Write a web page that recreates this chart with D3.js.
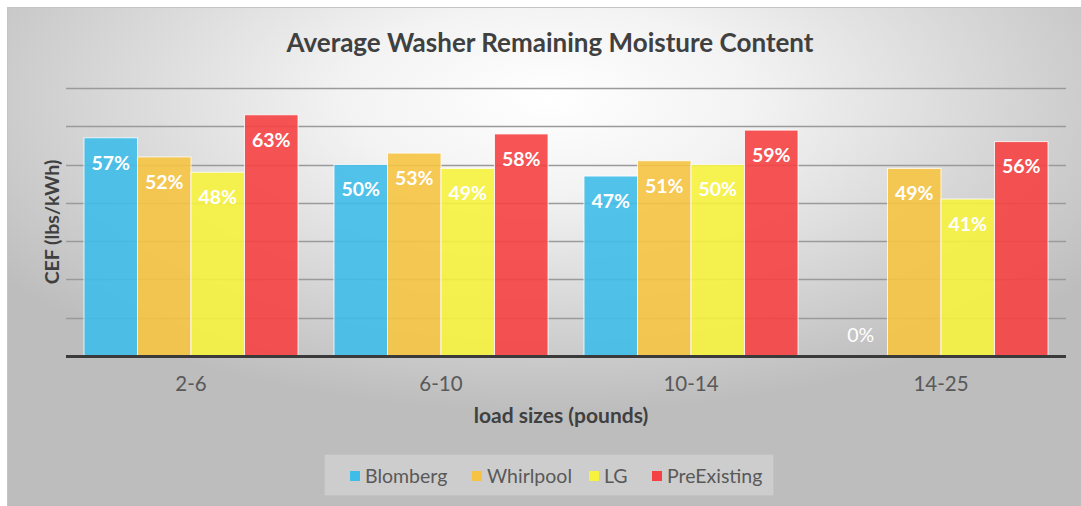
<!DOCTYPE html>
<html lang='en'>
    <head>
        <meta charset='utf-8'>
        <title>
            Average Washer Remaining Moisture Content
        </title>
        <script src="https://d3js.org/d3.v7.min.js" charset='utf-8'></script>
        <style type='text/css'>
            html, body {
                margin: 0;
                padding: 0;
                background: #ffffff;
            }
            svg {
                display: block;
                font-family: Lato, 'Open Sans', sans-serif;
            }
        </style>
    </head>
    <body>
        <script type='text/javascript'>
            // data
            var categories = ['2-6', '6-10', '10-14', '14-25'];
            var seriesNames = ['Blomberg', 'Whirlpool', 'LG', 'PreExisting'];
            var blomberg = [57, 50, 47, 0];
            var whirlpool = [52, 53, 51, 49];
            var lg = [48, 49, 50, 41];
            var preExisting = [63, 58, 59, 56];
            var gridTicks = [0, 10, 20, 30, 40, 50, 60, 70];
            var seriesValues = [blomberg, whirlpool, lg, preExisting];
            var colors = ['#3fbde9', '#f6c342', '#f6f23e', '#f54143'];

            var width = 1081, height = 506;
            var plot = {left: 66, right: 1066, top: 88, bottom: 356};

            var svg = d3.select('body')
                .append('svg')
                .attr('width', width)
                .attr('height', height);

            var defs = svg.append('defs');
            var grad = defs.append('radialGradient')
                .attr('id', 'bg')
                .attr('cx', 0.5)
                .attr('cy', 0.18)
                .attr('r', 0.62);
            grad.append('stop').attr('offset', 0).attr('stop-color', '#ffffff');
            grad.append('stop').attr('offset', 0.3).attr('stop-color', '#f3f3f3');
            grad.append('stop').attr('offset', 1).attr('stop-color', '#bdbdbd');

            svg.append('rect')
                .attr('x', 7.5)
                .attr('y', 7.5)
                .attr('width', width)
                .attr('height', height)
                .attr('fill', 'url(#bg)')
                .attr('stroke', '#c4c4c4');

            var rows = categories.map(function(c, i) {
                return {cat: c, values: seriesValues.map(function(s, j) {
                    return {name: seriesNames[j], value: s[i], color: colors[j]};
                })};
            });

            var x0 = d3.scaleBand()
                .domain(categories)
                .range([plot.left, plot.right])
                .paddingInner(0.144)
                .paddingOuter(0.072);
            var x1 = d3.scaleBand()
                .domain(seriesNames)
                .range([0, x0.bandwidth()]);
            var y = d3.scaleLinear()
                .domain([0, 70])
                .range([plot.bottom, plot.top]);

            // gridlines
            svg.append('g')
                .selectAll('line')
                .data(gridTicks.slice(1))
                .join('line')
                .attr('x1', plot.left)
                .attr('x2', plot.right)
                .attr('y1', function(d) { return Math.round(y(d)) + 0.5; })
                .attr('y2', function(d) { return Math.round(y(d)) + 0.5; })
                .attr('stroke', '#9a9a9a')
                .attr('stroke-width', 1.5);

            var groups = svg.append('g')
                .selectAll('g')
                .data(rows)
                .join('g')
                .attr('transform', function(d) { return 'translate(' + x0(d.cat) + ',0)'; });

            groups.selectAll('rect')
                .data(function(d) { return d.values; })
                .join('rect')
                .attr('x', function(d) { return x1(d.name); })
                .attr('y', function(d) { return y(d.value); })
                .attr('width', x1.bandwidth())
                .attr('height', function(d) { return y(0) - y(d.value); })
                .attr('fill', function(d) { return d.color; })
                .attr('fill-opacity', 0.9)
                .attr('stroke', '#ffffff')
                .attr('stroke-opacity', function(d) { return d.value > 0 ? 0.8 : 0; })
                .attr('stroke-width', 1);

            // labels sit inside the bar top; an empty bar gets a lighter one above the base
            groups.selectAll('text')
                .data(function(d) { return d.values; })
                .join('text')
                .attr('x', function(d) { return x1(d.name) + x1.bandwidth() / 2; })
                .attr('y', function(d) { return Math.min(y(d.value) + 25, y(0) - 21); })
                .attr('dy', '0.35em')
                .attr('text-anchor', 'middle')
                .attr('fill', '#ffffff')
                .attr('font-weight', function(d) { return d.value > 0 ? 'bold' : 'normal'; })
                .attr('font-size', '19.5px')
                .text(function(d) { return d.value + '%'; });

            // baseline axis
            svg.append('line')
                .attr('x1', plot.left)
                .attr('x2', plot.right)
                .attr('y1', y(0) + 0.5)
                .attr('y2', y(0) + 0.5)
                .attr('stroke', '#3a3a3a')
                .attr('stroke-width', 3);

            var xAxis = svg.append('g')
                .attr('transform', 'translate(0,' + (y(0) + 1) + ')')
                .call(d3.axisBottom(x0).tickSize(0).tickPadding(19));
            xAxis.select('.domain').remove();
            xAxis.selectAll('text')
                .attr('font-family', 'Lato, sans-serif')
                .attr('font-size', '20.5px')
                .attr('fill', '#595959');

            svg.append('text')
                .attr('x', 550)
                .attr('y', 52)
                .attr('text-anchor', 'middle')
                .attr('font-size', '26px')
                .attr('font-weight', 'bold')
                .attr('fill', '#404040')
                .text('Average Washer Remaining Moisture Content');

            svg.append('text')
                .attr('x', 561)
                .attr('y', 423)
                .attr('text-anchor', 'middle')
                .attr('font-size', '21px')
                .attr('font-weight', 'bold')
                .attr('fill', '#404040')
                .text('load sizes (pounds)');

            svg.append('text')
                .attr('transform', 'translate(59,222) rotate(-90)')
                .attr('text-anchor', 'middle')
                .attr('font-size', '19.5px')
                .attr('font-weight', 'bold')
                .attr('fill', '#404040')
                .text('CEF (lbs/kWh)');

            // legend
            svg.append('rect')
                .attr('x', 325)
                .attr('y', 455)
                .attr('width', 448)
                .attr('height', 40)
                .attr('fill', '#ffffff')
                .attr('fill-opacity', 0.25)
                .attr('stroke', '#d0d0d0')
                .attr('stroke-opacity', 0.6);

            var legendX = [350, 472, 589, 652];
            var legend = svg.append('g')
                .selectAll('g')
                .data(seriesNames)
                .join('g')
                .attr('transform', function(d, i) { return 'translate(' + legendX[i] + ',471)'; });
            legend.append('rect')
                .attr('width', 10)
                .attr('height', 10)
                .attr('fill', function(d, i) { return colors[i]; });
            legend.append('text')
                .attr('x', 15)
                .attr('y', 5)
                .attr('dy', '0.36em')
                .attr('font-size', '19.5px')
                .attr('fill', '#595959')
                .text(function(d) { return d; });
        </script>
    </body>
</html>
